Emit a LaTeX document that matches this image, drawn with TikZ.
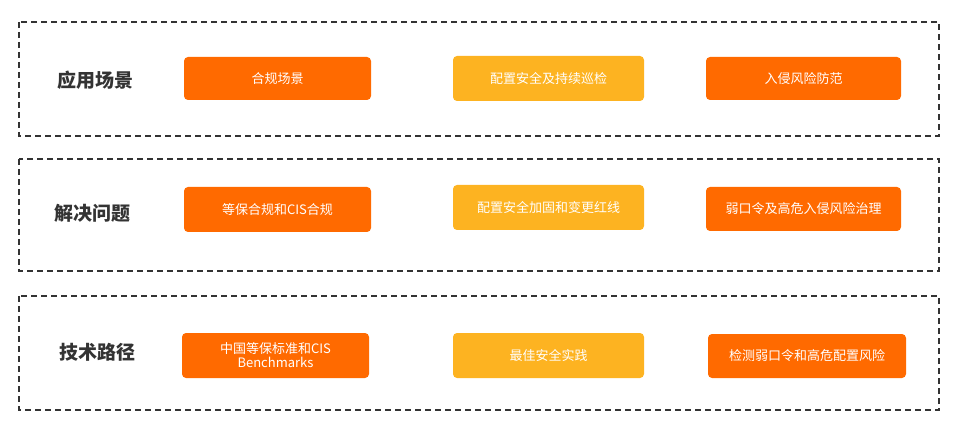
\documentclass[tikz,border=0pt]{standalone}
\usepackage{fontspec}
\newfontfamily\cjk{Noto Sans CJK SC}
\definecolor{org}{HTML}{FF6A00}
\definecolor{yel}{HTML}{FDB321}
\definecolor{lab}{HTML}{333333}
\begin{document}
\begin{tikzpicture}[x=1pt,y=-1pt,
  frame/.style={draw=black!80,line width=1.5pt,dash pattern=on 6pt off 4pt},
  btn/.style={text=white,font=\cjk\fontsize{13}{14}\selectfont,align=center},
  rowlab/.style={font=\cjk\bfseries\fontsize{19}{21}\selectfont,text=lab}]
\useasboundingbox (0,0) rectangle (955,427);
\draw[frame] (19,22) rectangle (939,136);
\draw[frame] (19,159) rectangle (939,271);
\draw[frame] (19,296) rectangle (939,410);
\node[rowlab] (l1) at (95,80) {应用场景};
\node[rowlab] (l2) at (92,213) {解决问题};
\node[rowlab] (l3) at (97,352) {技术路径};
\fill[org,rounded corners=4pt] (184,57) rectangle (371,100);
\node[btn] (a1) at (277.5,78.5) {合规场景};
\fill[yel,rounded corners=4pt] (453,56) rectangle (644,101);
\node[btn] (a2) at (548.5,78.5) {配置安全及持续巡检};
\fill[org,rounded corners=4pt] (706,57) rectangle (901,100);
\node[btn] (a3) at (803.5,78.5) {入侵风险防范};
\fill[org,rounded corners=4pt] (184,187) rectangle (371,232);
\node[btn] (b1) at (277.5,210) {等保合规和CIS合规};
\fill[yel,rounded corners=4pt] (453,185) rectangle (644,230);
\node[btn] (b2) at (548.5,208) {配置安全加固和变更红线};
\fill[org,rounded corners=4pt] (706,187) rectangle (901,231);
\node[btn] (b3) at (803.5,209) {弱口令及高危入侵风险治理};
\fill[org,rounded corners=4pt] (182,333) rectangle (369,378);
\node[btn] (c1) at (275.5,355.5) {中国等保标准和CIS\\Benchmarks};
\fill[yel,rounded corners=4pt] (453,333) rectangle (644,378);
\node[btn] (c2) at (548.5,355.5) {最佳安全实践};
\fill[org,rounded corners=4pt] (708,334) rectangle (906,378);
\node[btn] (c3) at (807,356) {检测弱口令和高危配置风险};
\end{tikzpicture}
\end{document}
